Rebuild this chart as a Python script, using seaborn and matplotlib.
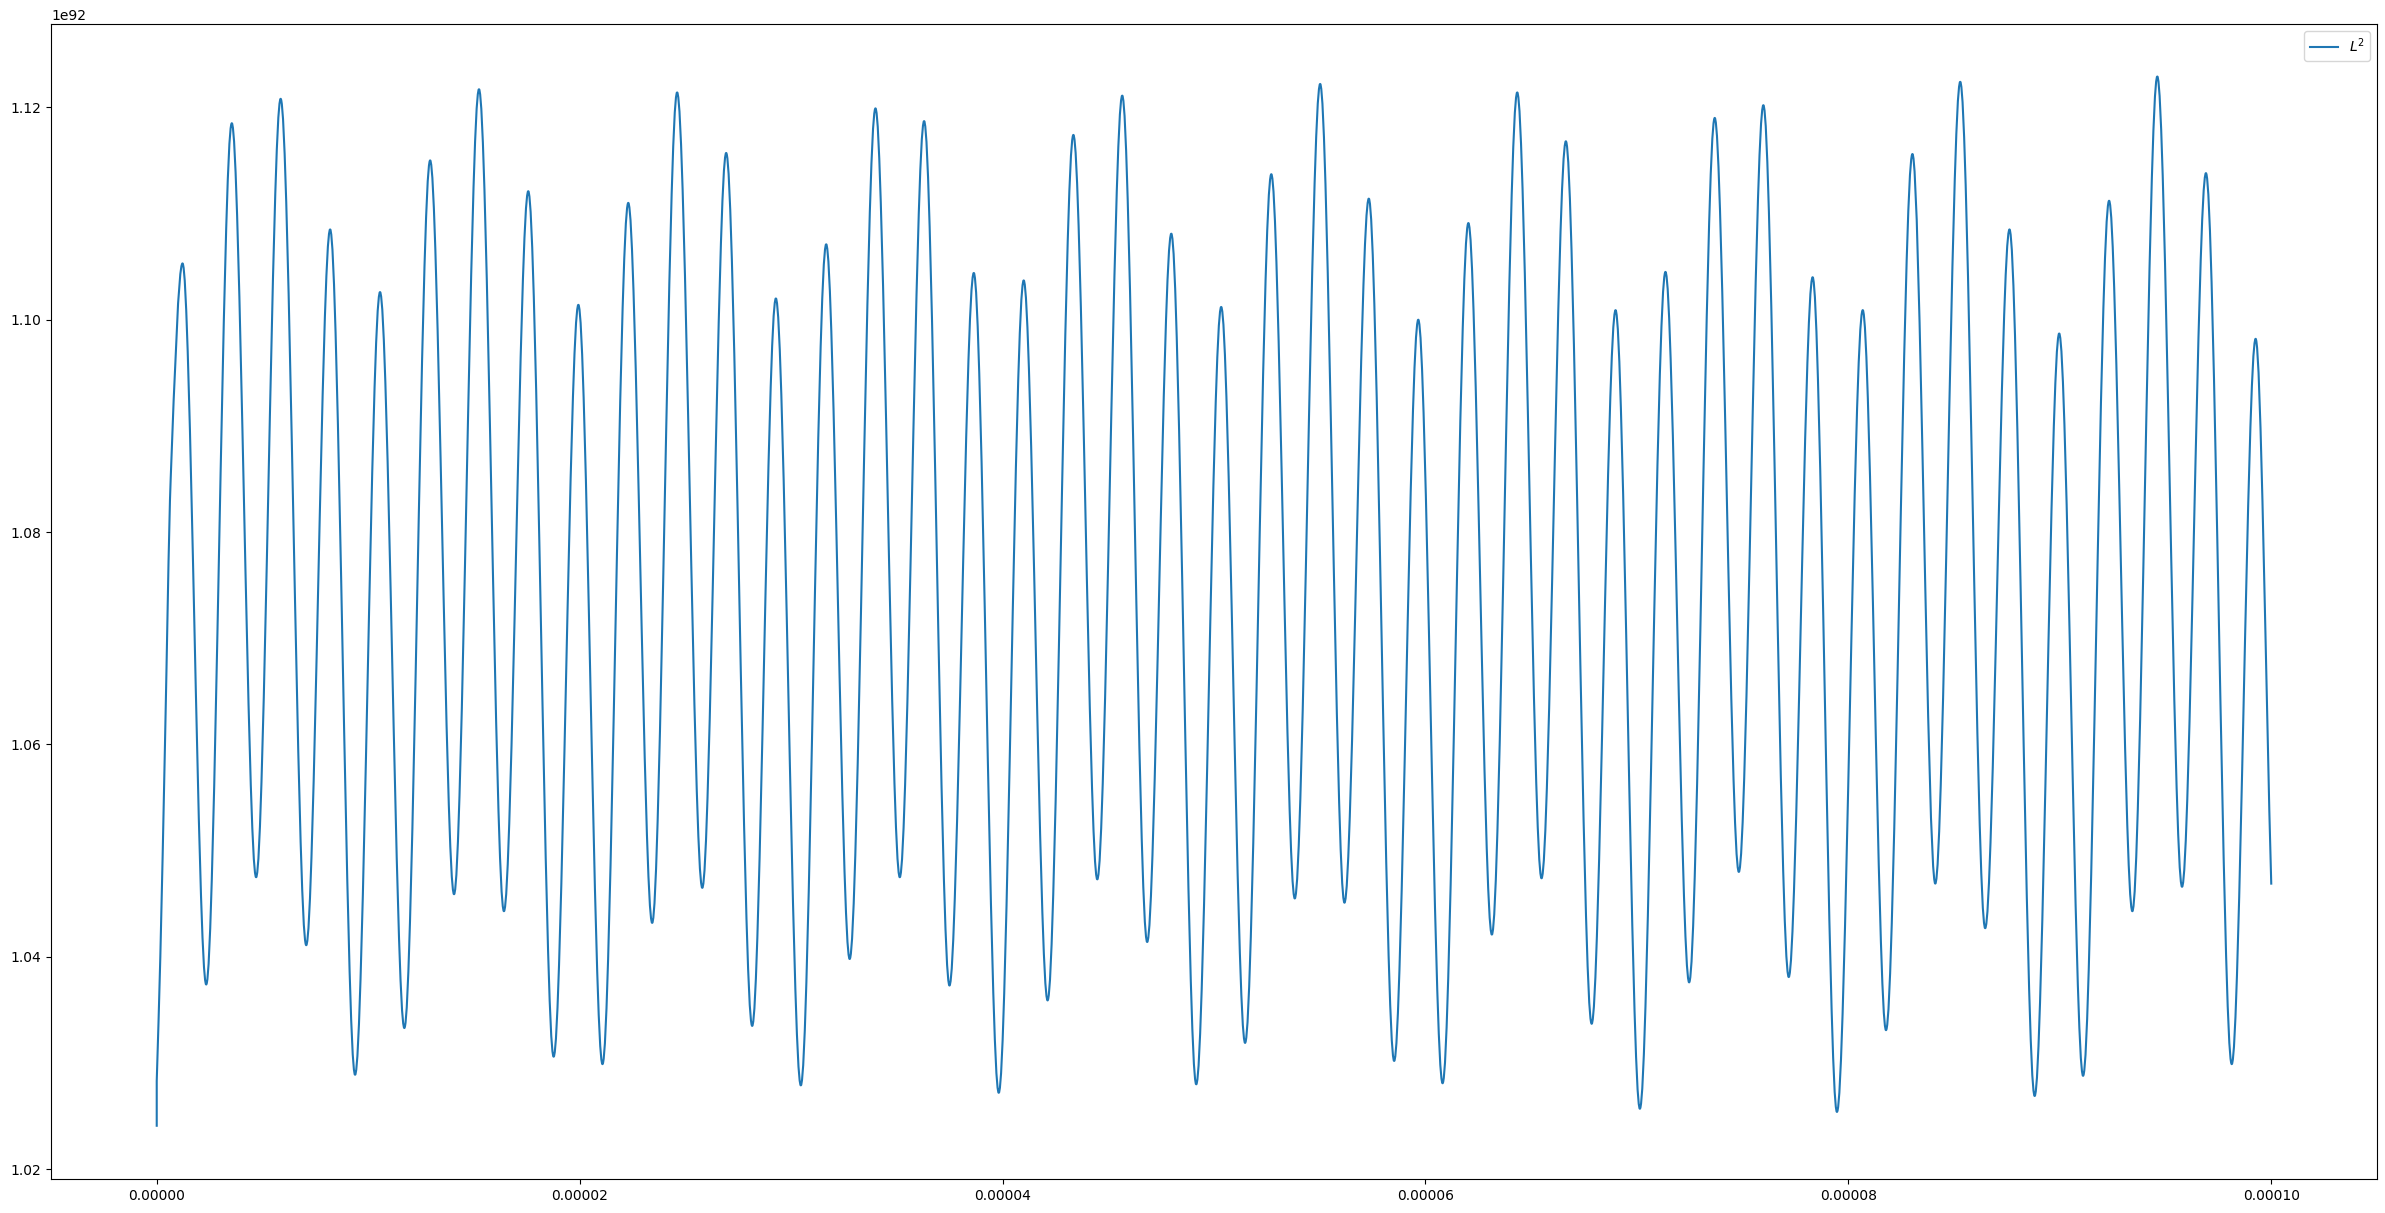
import numpy as np
import pandas as pd
import matplotlib
matplotlib.use('Agg')
import matplotlib.pyplot as plt
from matplotlib.path import Path
from matplotlib.patches import PathPatch
from matplotlib.lines import Line2D
import seaborn as sns

# values (x in microseconds, y in units of 1e92)
start_x = [0.0, 0.0, 0.17, 0.39, 0.66]
start_y = [1.0240, 1.0283, 1.0400, 1.0600, 1.0850]

peak_x = [1.22, 3.55, 5.86, 8.20, 10.56, 12.93, 15.24, 17.57, 19.94, 22.30,
          24.61, 26.93, 29.28, 31.66, 33.99, 36.29, 38.64, 41.00, 43.35, 45.66,
          47.98, 50.34, 52.71, 55.02, 57.32, 59.66, 62.03, 64.34, 66.64, 68.99,
          71.35, 73.68, 75.98, 78.31, 80.68, 83.03, 85.29, 87.62, 89.97, 92.33,
          94.61, 96.91, 99.26]
peak_y = [1.1053, 1.1185, 1.1208, 1.1085, 1.1026, 1.1150, 1.1217, 1.1121, 1.1014, 1.1110,
          1.1214, 1.1157, 1.1020, 1.1071, 1.1199, 1.1187, 1.1044, 1.1037, 1.1174, 1.1211,
          1.1081, 1.1012, 1.1137, 1.1222, 1.1114, 1.1000, 1.1091, 1.1214, 1.1168, 1.1009,
          1.1045, 1.1190, 1.1202, 1.1040, 1.1009, 1.1156, 1.1224, 1.1085, 1.0987, 1.1112,
          1.1229, 1.1138, 1.0982]

trough_x = [2.34, 4.70, 7.07, 9.38, 11.71, 14.06, 16.42, 18.77, 21.08, 23.43,
            25.80, 28.16, 30.46, 32.77, 35.14, 37.49, 39.82, 42.13, 44.48, 46.84,
            49.16, 51.47, 53.82, 56.17, 58.52, 60.81, 63.14, 65.49, 67.86, 70.14,
            72.47, 74.82, 77.18, 79.46, 81.78, 84.11, 86.47, 88.81, 91.10, 93.43,
            95.78, 98.13]
trough_y = [1.0374, 1.0475, 1.0411, 1.0289, 1.0333, 1.0459, 1.0443, 1.0306, 1.0299, 1.0432,
            1.0465, 1.0335, 1.0279, 1.0398, 1.0475, 1.0373, 1.0272, 1.0359, 1.0473, 1.0414,
            1.0280, 1.0319, 1.0455, 1.0451, 1.0302, 1.0281, 1.0421, 1.0474, 1.0337, 1.0257,
            1.0376, 1.0480, 1.0381, 1.0254, 1.0331, 1.0469, 1.0427, 1.0269, 1.0288, 1.0443,
            1.0466, 1.0299]

end_x = [100.0]
end_y = [1.0468]

LINE_COLOR = '#1f77b4'

df = pd.concat([
    pd.DataFrame({'t': start_x, 'L2': start_y}),
    pd.DataFrame({'t': peak_x, 'L2': peak_y}),
    pd.DataFrame({'t': trough_x, 'L2': trough_y}),
    pd.DataFrame({'t': end_x, 'L2': end_y}),
], ignore_index=True)
df = df.sort_values('t', kind='stable').reset_index(drop=True)
df['t'] = df['t'] * 1e-6
df['L2'] = df['L2'] * 1e92

fig = plt.figure(figsize=(23.85, 12.13), dpi=100)
ax = fig.add_subplot(111)
plt.subplots_adjust(left=51 / 2385, right=2377 / 2385, top=1 - 24 / 1213, bottom=1 - 1179.3 / 1213)

# seaborn sets up the scales from the data; the visible stroke is drawn below
sns.lineplot(data=df, x='t', y='L2', sort=False, estimator=None, color=LINE_COLOR,
             linewidth=0, legend=False, ax=ax)

# smooth rendering of the read points: monotone cubic segments (flat at extrema)
xs = df['t'].to_numpy()
ys = df['L2'].to_numpy()
n = len(xs)
dx = np.diff(xs)
with np.errstate(divide='ignore', invalid='ignore'):
    sec = np.where(dx > 0, np.diff(ys) / np.where(dx > 0, dx, 1), np.nan)

slopes = np.zeros(n)
for i in range(n):
    left = sec[i - 1] if i > 0 else np.nan
    right = sec[i] if i < n - 1 else np.nan
    if not np.isfinite(left) and not np.isfinite(right):
        slopes[i] = 0.0
    elif not np.isfinite(left):
        slopes[i] = right
    elif not np.isfinite(right):
        slopes[i] = left
    elif left * right <= 0:
        slopes[i] = 0.0
    else:
        slopes[i] = 2 * left * right / (left + right)

verts = [(xs[0], ys[0])]
codes = [Path.MOVETO]
for i in range(n - 1):
    h = dx[i]
    if h <= 0:
        verts.append((xs[i + 1], ys[i + 1]))
        codes.append(Path.LINETO)
        continue
    verts += [(xs[i] + h / 3, ys[i] + slopes[i] * h / 3),
              (xs[i + 1] - h / 3, ys[i + 1] - slopes[i + 1] * h / 3),
              (xs[i + 1], ys[i + 1])]
    codes += [Path.CURVE4] * 3

ax.add_patch(PathPatch(Path(verts, codes), facecolor='none', edgecolor=LINE_COLOR,
                       linewidth=1.5, joinstyle='round', capstyle='butt'))

ax.set_xlabel('')
ax.set_ylabel('')
ax.legend(handles=[Line2D([], [], color=LINE_COLOR, linewidth=1.5)], labels=['$L^2$'],
          loc='upper right')

plt.savefig('out.png', dpi=100)
plt.close()
